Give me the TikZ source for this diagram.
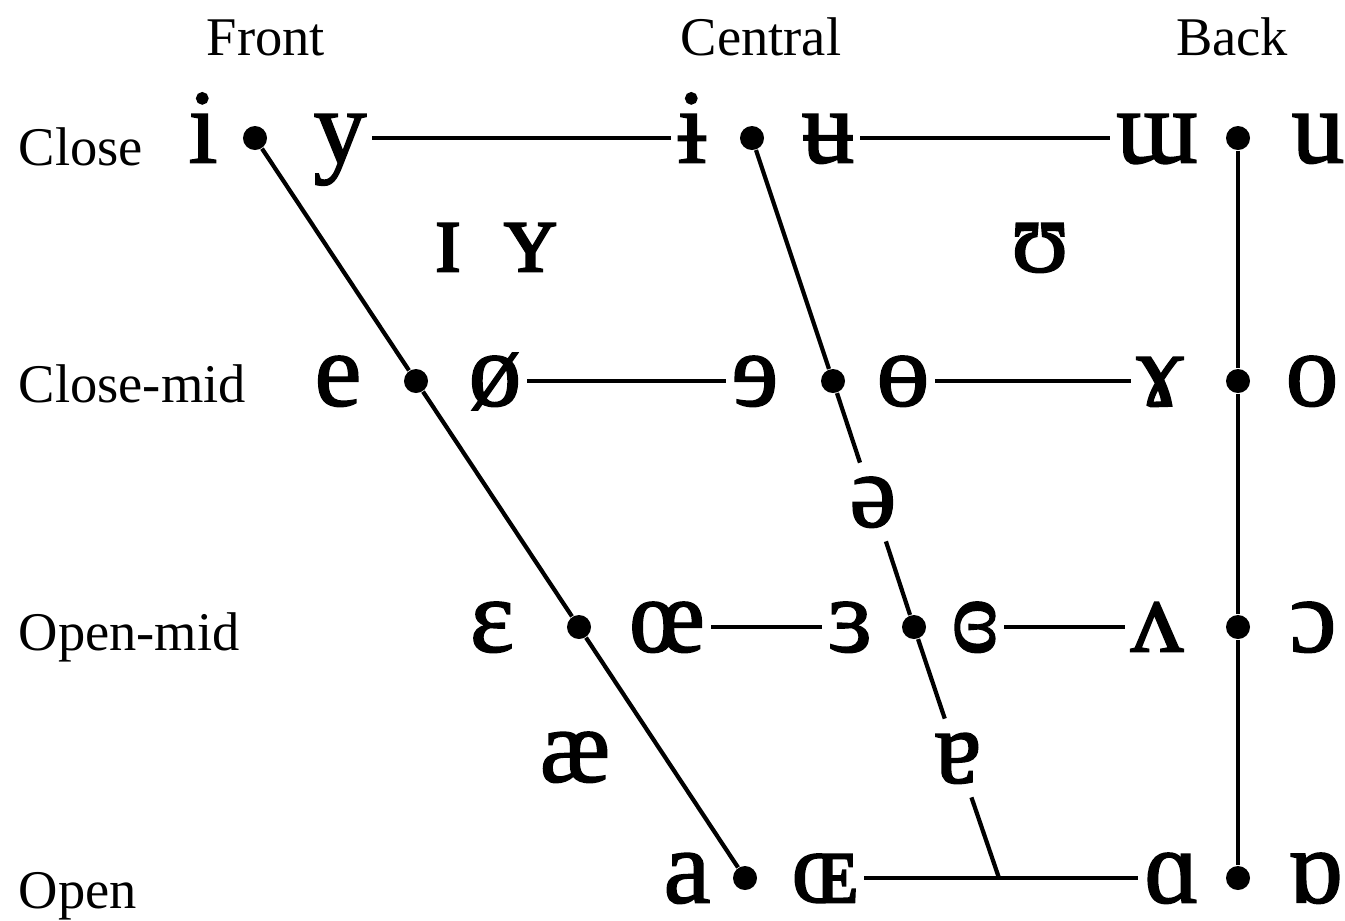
\documentclass[tikz,border=0pt]{standalone}
\usepackage{fontspec}
\setmainfont{Liberation Serif}
\newfontfamily\ipafont[FakeBold=1.5]{Liberation Serif}
\usetikzlibrary{calc}

\tikzset{
  vowel/.style={font=\ipafont\fontsize{30}{30}\selectfont, text height=14pt, text depth=0pt, inner sep=1.5pt},
  gapvowel/.style={vowel, inner sep=4pt},
  dot/.style={circle, fill, inner sep=0pt, minimum size=0.24cm},
  chartline/.style={line width=1.2pt},
  rowline/.style={line width=0.9pt},
  headtext/.style={font=\fontsize{15.5}{15.5}\selectfont, anchor=base},
  rowtext/.style={font=\fontsize{15.5}{15.5}\selectfont, anchor=base west, inner sep=0pt}
}

\begin{document}
\begin{tikzpicture}[x=0.01cm, y=-0.01cm]
    \useasboundingbox (0,0) rectangle (1345,920);

    % 各段の高さ
    \pgfmathsetmacro{\ya}{138}
    \pgfmathsetmacro{\yb}{381}
    \pgfmathsetmacro{\yc}{627}
    \pgfmathsetmacro{\yd}{878}

    % 見出し
    \node[headtext] (front) at (266,55) {Front};
    \node[headtext] (central) at (761,55) {Central};
    \node[headtext] (back) at (1232,55) {Back};

    \node[rowtext] (close) at (18,165) {Close};
    \node[rowtext] (closemid) at (18,402) {Close-mid};
    \node[rowtext] (openmid) at (18,650) {Open-mid};
    \node[rowtext] (open) at (18,908) {Open};

    % 点（前舌・中舌・後舌）
    \foreach \nm/\x/\y in {fa/255/\ya, fb/416/\yb, fc/579/\yc, fd/745/\yd,
                           ca/752/\ya, cb/833/\yb, cc/914/\yc,
                           ba/1238/\ya, bb/1238/\yb, bc/1238/\yc, bd/1238/\yd} {
        \node[dot] (\nm) at (\x,\y) {};
    }
    \coordinate (cd) at (999,\yd);

    % 母音記号
    \foreach \nm/\x/\y/\g in {i/203/\ya/i, y/340/\ya/y, ibar/692/\ya/ɨ, ubar/828/\ya/ʉ, turnm/1157/\ya/ɯ, u/1318/\ya/u,
                              e/338/\yb/e, oslash/495/\yb/ø, reve/755/\yb/ɘ, obar/903/\yb/ɵ, rams/1160/\yb/ɤ, o/1312/\yb/o,
                              eps/492/\yc/ɛ, oe/667/\yc/œ, reveps/850/\yc/ɜ, cloreveps/975/\yc/ɞ, turnv/1157/\yc/ʌ, openo/1313/\yc/ɔ,
                              a/687/\yd/a, OE/825/\yd/ɶ, scripta/1172/\yd/ɑ, turnscripta/1315/\yd/ɒ,
                              smalli/448/247/ɪ, smally/530/247/ʏ, upsilon/1040/247/ʊ, ae/575/757/æ} {
        \node[vowel] (\nm) at (\x,\y) {\g};
    }
    \node[gapvowel] (schwa) at (873,502) {ə};
    \node[gapvowel] (turna) at (958,758) {ɐ};

    % 台形の線
    \draw[chartline] (fa) -- (fb) -- (fc) -- (fd);
    \draw[chartline] (ca) -- (cb) -- (schwa) -- (cc) -- (turna) -- (cd);
    \draw[chartline] (ba) -- (bb) -- (bc) -- (bd);

    % 横の線
    \draw[rowline] (y) -- (ibar);
    \draw[rowline] (ubar) -- (turnm);
    \draw[rowline] (oslash) -- (reve);
    \draw[rowline] (obar) -- (rams);
    \draw[rowline] (oe) -- (reveps);
    \draw[rowline] (cloreveps) -- (turnv);
    \draw[rowline] (OE) -- (scripta);
    %
\end{tikzpicture}
\end{document}
